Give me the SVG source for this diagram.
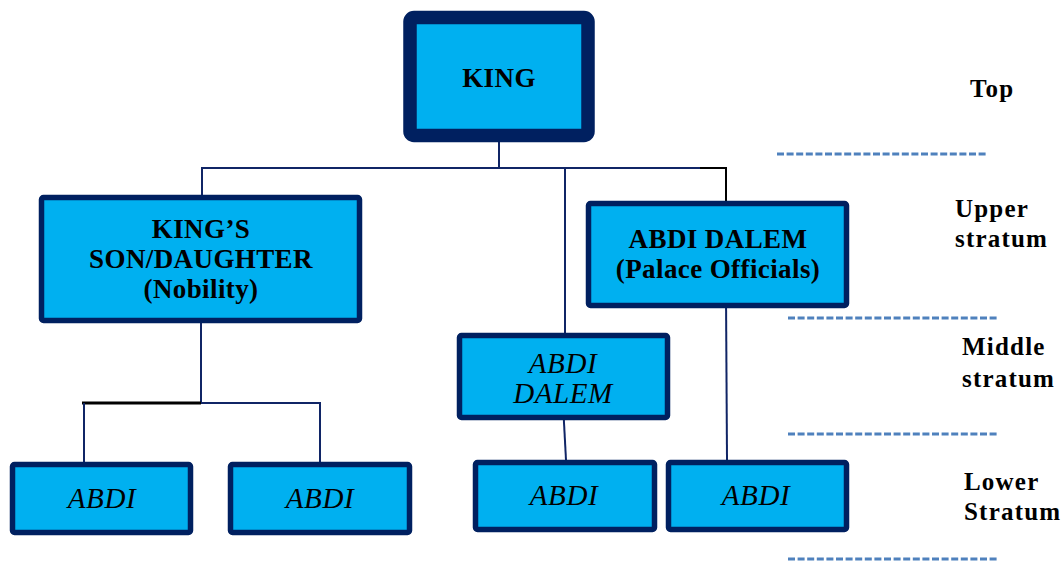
<svg xmlns="http://www.w3.org/2000/svg" width="1062" height="561" viewBox="0 0 1062 561">
  <style>
    .box { fill: #00B0F0; stroke: #002060; stroke-width: 5.5; }
    .king { fill: #00B0F0; stroke: #002060; stroke-width: 13.5; }
    .lbl { font-family: 'Liberation Serif', 'DejaVu Serif', serif; font-weight: bold; font-size: 27px; letter-spacing: 0.4px; fill: #000; text-anchor: middle; }
    .it { font-family: 'Liberation Serif', 'DejaVu Serif', serif; font-style: italic; font-size: 29px; letter-spacing: 0.6px; fill: #000; text-anchor: middle; }
    .side { font-family: 'Liberation Serif', 'DejaVu Serif', serif; font-weight: bold; font-size: 25px; fill: #000; letter-spacing: 1.2px; }
    .link { fill: none; stroke: #102566; stroke-width: 2; }
    .link-dark { fill: none; stroke: #000; stroke-width: 2; }
    .sep { stroke: #4F81BD; stroke-width: 3; stroke-dasharray: 7 2.6; }
  </style>

  <!-- hierarchy connectors -->
  <g id="connectors">
    <path class="link" d="M499 142 V168"/>
    <path class="link" d="M202 195 V168 H700"/>
    <path class="link-dark" d="M700 168 H726 V201"/>
    <path class="link" d="M565 168 V333"/>
    <path class="link" d="M201 323 V403 H320 V462"/>
    <path class="link-dark" d="M82 403 H201" style="stroke-width:3"/>
    <path class="link" d="M84 403 V462"/>
    <path class="link" d="M563 404 L566 460"/>
    <path class="link" d="M726 295 L727 460"/>
  </g>

  <g id="king">
    <rect class="king" x="410" y="17.5" width="178" height="118" rx="4"/>
    <text class="lbl" x="499" y="87">KING</text>
  </g>

  <g id="nobility">
    <rect class="box" x="41.5" y="197.5" width="318" height="123" rx="2"/>
    <text class="lbl" x="201" y="238">KING’S</text>
    <text class="lbl" x="201" y="268">SON/DAUGHTER</text>
    <text class="lbl" x="201" y="298">(Nobility)</text>
  </g>

  <g id="palace-officials">
    <rect class="box" x="588.5" y="203.5" width="258" height="102" rx="2"/>
    <text class="lbl" x="718" y="248">ABDI DALEM</text>
    <text class="lbl" x="718" y="278">(Palace Officials)</text>
  </g>

  <g id="abdi-dalem">
    <rect class="box" x="459.5" y="335.5" width="208" height="82" rx="2"/>
    <text class="it" x="563" y="373">ABDI</text>
    <text class="it" x="563" y="403">DALEM</text>
  </g>

  <g id="abdi-1">
    <rect class="box" x="12.5" y="464.5" width="178" height="68" rx="2"/>
    <text class="it" x="102" y="508">ABDI</text>
  </g>

  <g id="abdi-2">
    <rect class="box" x="230.5" y="464.5" width="179" height="68" rx="2"/>
    <text class="it" x="320" y="508">ABDI</text>
  </g>

  <g id="abdi-3">
    <rect class="box" x="475.5" y="462.5" width="179" height="67" rx="2"/>
    <text class="it" x="564" y="505">ABDI</text>
  </g>

  <g id="abdi-4">
    <rect class="box" x="668.5" y="462.5" width="178" height="67" rx="2"/>
    <text class="it" x="756" y="505">ABDI</text>
  </g>

  <!-- strata legend -->
  <g id="strata">
    <text class="side" x="970" y="97">Top</text>
    <line class="sep" x1="777" y1="154" x2="988" y2="154"/>
    <text class="side" x="955" y="217">Upper</text>
    <text class="side" x="955" y="247">stratum</text>
    <line class="sep" x1="788" y1="318" x2="998" y2="318"/>
    <text class="side" x="962" y="355">Middle</text>
    <text class="side" x="962" y="387">stratum</text>
    <line class="sep" x1="788" y1="434" x2="998" y2="434"/>
    <text class="side" x="964" y="490">Lower</text>
    <text class="side" x="964" y="520">Stratum</text>
    <line class="sep" x1="788" y1="559" x2="998" y2="559"/>
  </g>
</svg>
